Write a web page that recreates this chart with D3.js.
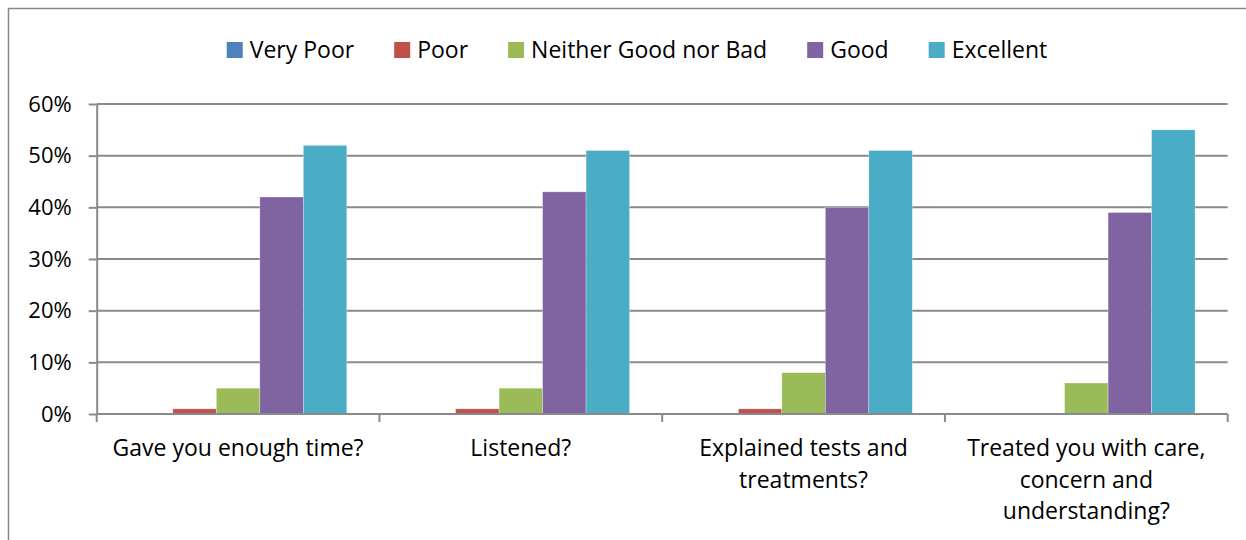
<!DOCTYPE html>
<html>
<head>
<meta charset="utf-8">
<script src="https://cdn.jsdelivr.net/npm/d3@7"></script>
<style>
  html, body { margin: 0; padding: 0; background: #fff; }
  svg { display: block; }
  text { font-family: "Open Sans", Lato, sans-serif; fill: #000; }
</style>
</head>
<body>
<svg id="chart" width="1246" height="540"></svg>
<script>
// Survey questions (x-axis categories), wrapped lines as shown under the axis
const categories = [
  ["Gave you enough time?"],
  ["Listened?"],
  ["Explained tests and", "treatments?"],
  ["Treated you with care,", "concern and", "understanding?"]
];
const seriesNames = ["Very Poor", "Poor", "Neither Good nor Bad", "Good", "Excellent"];
const seriesColors = ["#4F81BD", "#C0504D", "#9BBB59", "#8064A2", "#4BACC6"];

// Share of responses (%) per rating, one array per rating, in category order
const veryPoor  = [0, 0, 0, 0];
const poor      = [1, 1, 1, 0];
const neither   = [5, 5, 8, 6];
const good      = [42, 43, 40, 39];
const excellent = [52, 51, 51, 55];
const seriesValues = [veryPoor, poor, neither, good, excellent];

const yTicks = [0, 10, 20, 30, 40, 50, 60];

const svg = d3.select("#chart");
const W = 1246, H = 540;
const FONT = 23;
const plot = { left: 96.7, right: 1227.7, top: 104, bottom: 414 };

// outer chart frame (runs past the right and bottom edges)
svg.append("rect")
  .attr("x", 8.5).attr("y", 8.5)
  .attr("width", W + 20).attr("height", H + 20)
  .attr("fill", "none").attr("stroke", "#868686").attr("stroke-width", 1.5);

const x0 = d3.scaleBand()
  .domain(d3.range(categories.length))
  .range([plot.left, plot.right])
  .paddingInner(0).paddingOuter(0);

// Five bars per group, with a 150% gap split around each group
const bw = x0.bandwidth() / (seriesNames.length + 1.5);
const x1 = d3.scaleBand()
  .domain(d3.range(seriesNames.length))
  .range([bw * 0.75, x0.bandwidth() - bw * 0.75])
  .padding(0);

const y = d3.scaleLinear().domain([0, 60]).range([plot.bottom, plot.top]);

// horizontal gridlines
svg.append("g")
  .selectAll("line")
  .data(yTicks.filter(d => d > 0))
  .join("line")
  .attr("x1", plot.left).attr("x2", plot.right)
  .attr("y1", d => y(d)).attr("y2", d => y(d))
  .attr("stroke", "#8a8a8a").attr("stroke-width", 2);

// y axis
const yAxis = d3.axisLeft(y)
  .tickValues(yTicks)
  .tickFormat(d => d + "%")
  .tickSizeInner(8).tickSizeOuter(0).tickPadding(17);
const gy = svg.append("g").attr("transform", `translate(${plot.left},0)`).call(yAxis);
gy.select(".domain").attr("stroke", "#8a8a8a").attr("stroke-width", 2);
gy.selectAll(".tick line").attr("stroke", "#8a8a8a").attr("stroke-width", 2);
gy.selectAll(".tick text")
  .attr("font-size", FONT - 1).attr("font-family", "'Open Sans', sans-serif").attr("fill", "#000");

// bars
const groups = svg.append("g")
  .selectAll("g")
  .data(categories.map((c, i) => i))
  .join("g")
  .attr("transform", i => `translate(${x0(i)},0)`);

groups.selectAll("rect")
  .data(i => seriesValues.map((vals, s) => ({ s, v: vals[i] })))
  .join("rect")
  .attr("x", d => x1(d.s))
  .attr("width", x1.bandwidth())
  .attr("y", d => y(d.v))
  .attr("height", d => y(0) - y(d.v))
  .attr("fill", d => seriesColors[d.s])
  .attr("stroke", "rgba(255,255,255,0.5)")
  .attr("stroke-width", 0.6);

// x axis with ticks at category boundaries
const xb = svg.append("g");
xb.append("line")
  .attr("x1", plot.left).attr("x2", plot.right)
  .attr("y1", plot.bottom).attr("y2", plot.bottom)
  .attr("stroke", "#8a8a8a").attr("stroke-width", 2);
xb.selectAll("line.tk")
  .data(d3.range(categories.length + 1))
  .join("line")
  .attr("class", "tk")
  .attr("x1", i => plot.left + i * x0.bandwidth())
  .attr("x2", i => plot.left + i * x0.bandwidth())
  .attr("y1", plot.bottom).attr("y2", plot.bottom + 8)
  .attr("stroke", "#8a8a8a").attr("stroke-width", 2);

// category labels
const lineH = 31.5;
svg.append("g")
  .selectAll("text")
  .data(categories.map((lines, i) => ({ lines, i })))
  .join("text")
  .attr("text-anchor", "middle")
  .attr("font-size", FONT)
  .each(function(d) {
    const t = d3.select(this);
    d.lines.forEach((ln, k) => {
      t.append("tspan")
        .attr("x", x0(d.i) + x0.bandwidth() / 2)
        .attr("y", 456 + k * lineH)
        .text(ln);
    });
  });

// legend, centred over the chart
const legendGap = 40;
const legend = svg.append("g");
const items = legend.selectAll("g")
  .data(seriesNames.map((n, s) => ({ n, s })))
  .join("g");
items.append("rect")
  .attr("width", 16).attr("height", 16)
  .attr("y", 42)
  .attr("fill", d => seriesColors[d.s]);
items.append("text")
  .attr("x", 23).attr("y", 58)
  .attr("font-size", FONT)
  .text(d => d.n);
let cx = 0;
items.each(function() {
  const g = d3.select(this);
  g.attr("transform", `translate(${cx},0)`);
  const tw = g.select("text").node().getComputedTextLength();
  cx += 23 + tw + legendGap;
});
const totalW = cx - legendGap;
legend.attr("transform", `translate(${637 - totalW / 2},0)`);
</script>
</body>
</html>
